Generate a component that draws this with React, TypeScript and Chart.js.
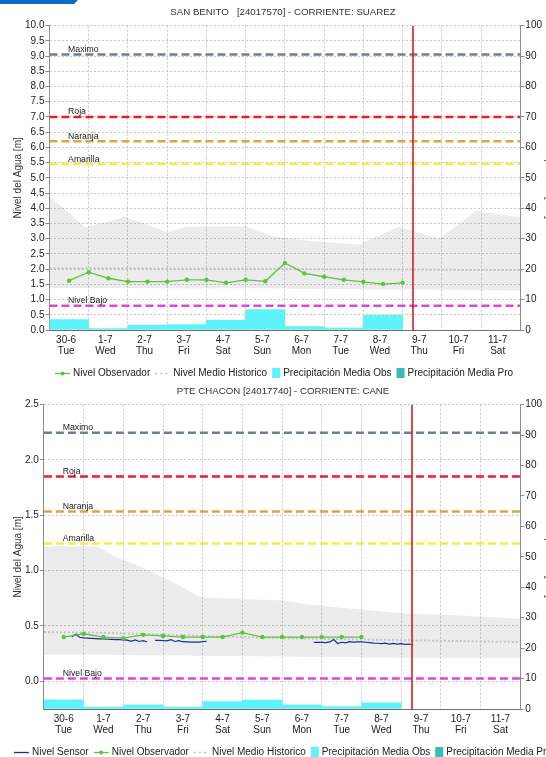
import React, { useEffect, useRef } from 'react';
import { Chart, registerables } from 'chart.js';

Chart.register(...registerables);

const FONT = "'Liberation Sans', Arial, sans-serif";

// ---------- shared data ----------
const DATES = ['30-6', '1-7', '2-7', '3-7', '4-7', '5-7', '6-7', '7-7', '8-7', '9-7', '10-7', '11-7'];
const DAYS = ['Tue', 'Wed', 'Thu', 'Fri', 'Sat', 'Sun', 'Mon', 'Tue', 'Wed', 'Thu', 'Fri', 'Sat'];
const NOW_INDEX = 8.77;
const LEVEL_NAMES = ['Maximo', 'Roja', 'Naranja', 'Amarilla', 'Nivel Bajo'];
const PRECIP_DAYS = [0, 1, 2, 3, 4, 5, 6, 7, 8];
const OBS_X = [0, 0.5, 1, 1.5, 2, 2.5, 3, 3.5, 4, 4.5, 5, 5.5, 6, 6.5, 7, 7.5, 8, 8.5];

// ---------- SAN BENITO ----------
const SB_TITLE = 'SAN BENITO   [24017570] - CORRIENTE: SUAREZ';
const SB_LEVELS = [9.05, 7.0, 6.2, 5.45, 0.8];
const SB_OBS = [1.62, 1.9, 1.7, 1.59, 1.59, 1.59, 1.65, 1.65, 1.55, 1.65, 1.6, 2.2, 1.86, 1.75, 1.65, 1.58, 1.51, 1.55];
const SB_PRECIP = [3.4, 0.5, 1.5, 1.8, 3.2, 6.7, 1.1, 0.65, 4.85];
const SB_BAND_X = [-0.5, 0.42, 1.44, 2.51, 2.97, 4.5, 5.18, 6.03, 7.39, 8.41, 9.43, 10.37, 11.09, 11.5];
const SB_BAND_HI = [4.4, 3.37, 3.72, 3.22, 3.39, 3.41, 3.08, 2.94, 2.81, 3.39, 3.0, 3.92, 3.78, 3.7];
const SB_BAND_LO = [1.38, 1.38, 1.38, 1.37, 1.37, 1.36, 1.36, 1.35, 1.34, 1.33, 1.32, 1.31, 1.3, 1.3];
const SB_MEDIO = [2.03, 2.03, 2.03, 2.02, 2.02, 2.02, 2.01, 2.0, 2.0, 1.99, 1.98, 1.97, 1.97, 1.97];

// ---------- PTE CHACON ----------
const PC_TITLE = 'PTE CHACON [24017740] - CORRIENTE: CANE';
const PC_LEVELS = [2.245, 1.85, 1.535, 1.245, 0.025];
const PC_OBS_X = [0, 0.5, 1, 1.5, 2, 2.5, 3, 3.5, 4, 4.5, 5, 5.5, 6, 6.5, 7, 7.5];
const PC_OBS = [0.4, 0.43, 0.4, 0.39, 0.42, 0.41, 0.4, 0.4, 0.4, 0.44, 0.4, 0.4, 0.4, 0.4, 0.4, 0.4];
const PC_PRECIP = [3.0, 0.6, 1.35, 0.6, 2.4, 2.9, 1.35, 0.8, 2.0];
const PC_SENSOR_X = [
  0.2, 0.3, 0.4, 0.5, 0.6, 0.7, 0.8, 0.9, 1.0, 1.1, 1.2, 1.3, 1.4, 1.5, 1.6, 1.7, 1.8, 1.9, 2.0, 2.1,
  2.2, 2.3, 2.4, 2.5, 2.6, 2.7, 2.8, 2.9, 3.0, 3.1, 3.2, 3.3, 3.4, 3.5, 3.6, 4.9,
  6.3, 6.4, 6.5, 6.6, 6.7, 6.8, 6.9, 7.0, 7.1, 7.2, 7.3, 7.4, 7.5, 7.6, 7.7, 7.8, 7.9, 8.0, 8.1,
  8.2, 8.3, 8.4, 8.5, 8.6, 8.7, 8.8,
];
const PC_SENSOR = [
  0.4, 0.425, 0.398, 0.392, 0.39, 0.388, 0.386, 0.384, 0.383, 0.38, 0.379, 0.377, 0.376, 0.375, 0.372, 0.362, 0.374, 0.36, 0.368, 0.358,
  null, 0.37, 0.371, 0.369, 0.366, 0.376, 0.36, 0.368, 0.358, 0.357, 0.355, 0.354, 0.355, 0.358, 0.362, null,
  0.352, 0.353, 0.352, 0.35, 0.356, 0.378, 0.342, 0.353, 0.348, 0.358, 0.354, 0.356, 0.356, 0.353, 0.349, 0.345, 0.344, 0.34, 0.345,
  0.337, 0.343, 0.337, 0.341, 0.334, 0.337, 0.33,
];
const PC_BAND_X = [-0.5, 0.83, 1.27, 1.89, 2.76, 3.46, 4.52, 5.57, 6.27, 7.15, 8.03, 8.73, 9.78, 11.5];
const PC_BAND_HI = [1.22, 1.22, 1.13, 1.045, 0.895, 0.76, 0.745, 0.73, 0.69, 0.66, 0.63, 0.61, 0.6, 0.565];
const PC_BAND_LO = [0.24, 0.24, 0.24, 0.235, 0.235, 0.23, 0.23, 0.225, 0.22, 0.22, 0.215, 0.21, 0.21, 0.21];
const PC_MEDIO = [0.445, 0.44, 0.435, 0.43, 0.42, 0.41, 0.4, 0.39, 0.385, 0.38, 0.375, 0.37, 0.365, 0.355];

// ---------- styles ----------
const LEVEL_COLORS = ['#6f7d9c', '#e3202a', '#e3a33c', '#f3f03a', '#dd48dc'];
const GRID = '#c8c8c8';
const AXIS = '#8c8c8c';
const OBS_COLOR = '#5fc23c';
const SENSOR_COLOR = '#1f2a9c';
const PRECIP_COLOR = '#5ef3fa';
const PRECIP_PRO_COLOR = '#35bdb8';
const MEDIO_COLOR = '#c2c2c2';

type LegendItem = { kind: 'line' | 'lineDot' | 'dotted' | 'box'; color: string; text: string };

const BASE_LEGEND: LegendItem[] = [
  { kind: 'lineDot', color: OBS_COLOR, text: 'Nivel Observador' },
  { kind: 'dotted', color: MEDIO_COLOR, text: 'Nivel Medio Historico' },
  { kind: 'box', color: PRECIP_COLOR, text: 'Precipitación Media Obs' },
  { kind: 'box', color: PRECIP_PRO_COLOR, text: 'Precipitación Media Pro' },
];

function pts(xs: number[], ys: (number | null)[]) {
  return xs.map((x, i) => ({ x, y: ys[i] }));
}

function legendPlugin(items: LegendItem[], startX: number, y: number) {
  return {
    id: 'customLegend',
    afterDraw(chart: any) {
      const ctx = chart.ctx as CanvasRenderingContext2D;
      ctx.save();
      ctx.font = `10px ${FONT}`;
      ctx.textBaseline = 'middle';
      let x = startX;
      for (const it of items) {
        if (it.kind === 'box') {
          ctx.fillStyle = it.color;
          ctx.fillRect(x, y - 5, 8, 10);
          x += 8;
        } else {
          const w = 15;
          ctx.strokeStyle = it.color;
          ctx.lineWidth = it.kind === 'dotted' ? 1.6 : 1.3;
          ctx.setLineDash(it.kind === 'dotted' ? [2, 3] : []);
          ctx.beginPath();
          ctx.moveTo(x, y + 0.5);
          ctx.lineTo(x + w, y + 0.5);
          ctx.stroke();
          ctx.setLineDash([]);
          if (it.kind === 'lineDot') {
            ctx.fillStyle = it.color;
            ctx.beginPath();
            ctx.arc(x + w / 2, y + 0.5, 2, 0, Math.PI * 2);
            ctx.fill();
          }
          x += w;
        }
        x += 3;
        ctx.fillStyle = '#222';
        ctx.fillText(it.text, x, y + 0.5);
        x += ctx.measureText(it.text).width + 5;
      }
      ctx.restore();
    },
  };
}

function levelLabelPlugin(values: number[]) {
  return {
    id: 'levelLabels',
    afterDatasetsDraw(chart: any) {
      const { ctx, scales } = chart;
      ctx.save();
      ctx.font = `8.7px ${FONT}`;
      ctx.fillStyle = '#222';
      ctx.textBaseline = 'alphabetic';
      LEVEL_NAMES.forEach((n, i) => {
        ctx.fillText(n, scales.x.getPixelForValue(0) - 1, scales.y.getPixelForValue(values[i]) - 2.5);
      });
      ctx.restore();
    },
  };
}

function nowLinePlugin() {
  return {
    id: 'nowLine',
    afterDatasetsDraw(chart: any) {
      const { ctx, chartArea, scales } = chart;
      const px = Math.round(scales.x.getPixelForValue(NOW_INDEX));
      ctx.save();
      ctx.setLineDash([]);
      ctx.strokeStyle = '#d41010';
      ctx.lineWidth = 1.5;
      ctx.beginPath();
      ctx.moveTo(px, chartArea.top);
      ctx.lineTo(px, chartArea.bottom);
      ctx.stroke();
      ctx.restore();
    },
  };
}

type Spec = {
  title: string;
  yMin: number;
  yMax: number;
  levels: number[];
  obsX: number[];
  obs: number[];
  precip: number[];
  bandX: number[];
  bandHi: number[];
  bandLo: number[];
  medio: number[];
  sensorX?: number[];
  sensor?: (number | null)[];
  legend: LegendItem[];
  legendX: number;
  labelShift: number;
};

function buildConfig(s: Spec): any {
  const datasets: any[] = [
    {
      type: 'line', data: pts(s.bandX, s.bandHi), fill: '+1', backgroundColor: 'rgba(0,0,0,0.075)',
      borderWidth: 0, pointRadius: 0, order: 20,
    },
    { type: 'line', data: pts(s.bandX, s.bandLo), fill: false, borderWidth: 0, pointRadius: 0, order: 19 },
    {
      type: 'line', data: pts(s.bandX, s.medio), borderColor: MEDIO_COLOR, borderWidth: 2,
      borderDash: [2, 2], pointRadius: 0, fill: false, order: 15,
    },
    {
      type: 'bar', data: pts(PRECIP_DAYS, s.precip), yAxisID: 'y1', backgroundColor: PRECIP_COLOR,
      borderWidth: 0, barPercentage: 1, categoryPercentage: 1, order: 16,
    },
  ];
  s.levels.forEach((v, i) => {
    datasets.push({
      type: 'line', data: pts([-0.5, 11.5], [v, v]), borderColor: LEVEL_COLORS[i], borderWidth: 2.5,
      borderDash: [8, 4], pointRadius: 0, fill: false, order: 5 + i,
    });
  });
  if (s.sensorX && s.sensor) {
    datasets.push({
      type: 'line', data: pts(s.sensorX, s.sensor), borderColor: SENSOR_COLOR, borderWidth: 1.2,
      pointRadius: 0, fill: false, spanGaps: false, order: 2,
    });
  }
  datasets.push({
    type: 'line', data: pts(s.obsX, s.obs), borderColor: OBS_COLOR, borderWidth: 1.3,
    pointRadius: 2.2, pointBackgroundColor: OBS_COLOR, pointBorderWidth: 0, fill: false, order: 1,
  });

  const tickFont = { size: 10, family: FONT, lineHeight: 1.1 };
  const titleFont = { size: 10, family: FONT, weight: 'normal' as const };

  return {
    type: 'line',
    data: { datasets },
    plugins: [levelLabelPlugin(s.levels), nowLinePlugin(), legendPlugin(s.legend, s.legendX, 373)],
    options: {
      responsive: false,
      animation: false,
      devicePixelRatio: 1,
      events: [],
      layout: { padding: { left: 11, right: 11, top: 0, bottom: 18 } },
      plugins: {
        legend: { display: false },
        tooltip: { enabled: false },
        title: {
          display: true, text: s.title, color: '#333',
          font: { size: 9.7, family: FONT, weight: 'normal' }, padding: { top: 7, bottom: 7 },
        },
      },
      scales: {
        x: {
          type: 'linear', min: -0.5, max: 11.5, offset: false,
          afterBuildTicks: (sc: any) => { sc.ticks = DATES.map((_, i) => ({ value: i })); },
          ticks: {
            autoSkip: false, maxRotation: 0, padding: 5, color: '#222', font: tickFont,
            labelOffset: s.labelShift,
            callback: (v: any) => [DATES[Math.round(v)], DAYS[Math.round(v)]],
          },
          grid: { color: GRID, drawTicks: false },
          border: { color: '#6e6e6e', dash: [2, 2] },
        },
        y: {
          type: 'linear', position: 'left', min: s.yMin, max: s.yMax,
          afterBuildTicks: (sc: any) => { sc.ticks = sc.ticks.filter((t: any) => t.value >= -1e-9); },
          ticks: {
            stepSize: 0.5, autoSkip: false, padding: 1, color: '#222', font: tickFont,
            callback: (v: any) => Number(v).toFixed(1),
          },
          grid: { color: GRID, tickLength: 4, tickColor: AXIS },
          border: { color: AXIS, dash: [2, 2] },
          title: { display: true, text: 'Nivel del Agua [m]', color: '#333', font: titleFont, padding: { top: 1, bottom: 0 } },
        },
        y1: {
          type: 'linear', position: 'right', min: 0, max: 100,
          ticks: { stepSize: 10, autoSkip: false, padding: 1, color: '#222', font: tickFont },
          grid: { drawOnChartArea: false, tickLength: 4, tickColor: AXIS },
          border: { color: AXIS },
          title: { display: true, text: 'Precipitación [mm]', color: '#333', font: titleFont, padding: { top: 0, bottom: 0 } },
        },
      },
    },
  };
}

const SPECS: Spec[] = [
  {
    title: SB_TITLE, yMin: 0, yMax: 10, levels: SB_LEVELS, obsX: OBS_X, obs: SB_OBS, precip: SB_PRECIP,
    bandX: SB_BAND_X, bandHi: SB_BAND_HI, bandLo: SB_BAND_LO, medio: SB_MEDIO,
    legend: BASE_LEGEND, legendX: 55, labelShift: -3,
  },
  {
    title: PC_TITLE, yMin: -0.25, yMax: 2.5, levels: PC_LEVELS, obsX: PC_OBS_X, obs: PC_OBS, precip: PC_PRECIP,
    bandX: PC_BAND_X, bandHi: PC_BAND_HI, bandLo: PC_BAND_LO, medio: PC_MEDIO,
    sensorX: PC_SENSOR_X, sensor: PC_SENSOR,
    legend: [{ kind: 'line', color: SENSOR_COLOR, text: 'Nivel Sensor' }, ...BASE_LEGEND], legendX: 14, labelShift: 0,
  },
];

function StationChart({ spec, top }: { spec: Spec; top: number }) {
  const ref = useRef<HTMLCanvasElement | null>(null);
  useEffect(() => {
    if (!ref.current) return;
    const chart = new Chart(ref.current, buildConfig(spec));
    return () => chart.destroy();
  }, [spec]);
  return (
    <canvas
      ref={ref}
      width={566}
      height={380}
      style={{ position: 'absolute', left: 0, top, width: 566, height: 380 }}
    />
  );
}

export default function App() {
  return (
    <div style={{ position: 'absolute', left: 0, top: 0, width: 546, height: 757, overflow: 'hidden', background: '#fff' }}>
      <StationChart spec={SPECS[0]} top={0} />
      <StationChart spec={SPECS[1]} top={379} />
      <div
        style={{
          position: 'absolute', left: 0, top: 0, width: 78, height: 4, background: '#0b6cc4',
          clipPath: 'polygon(0 0, 78px 0, 74px 100%, 0 100%)',
        }}
      />
    </div>
  );
}
